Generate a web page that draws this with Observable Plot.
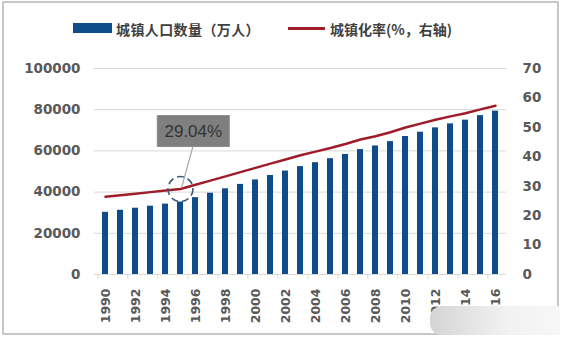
<!DOCTYPE html>
<html>
<head>
<meta charset="utf-8">
<script src="https://cdn.jsdelivr.net/npm/d3@7"></script>
<script src="https://cdn.jsdelivr.net/npm/@observablehq/plot@0.6"></script>
<style>
  body { margin: 0; background: #fff; }
  #wrap { position: relative; width: 562px; height: 339px; overflow: hidden; background: #fff; }
  #frame { position: absolute; left: 2px; top: 1px; width: 553px; height: 330px; border: 2px solid #c8c8c8; }
  #legend { position: absolute; left: 0; top: 0; width: 562px; height: 50px; font-family: "Noto Sans CJK SC", sans-serif; font-weight: bold; font-size: 14px; color: #404040; }
  .sw { position: absolute; }
  .lt { position: absolute; top: 19px; line-height: 20px; white-space: nowrap; }
  #chart { position: absolute; left: 0; top: 50px; }
  #wm { position: absolute; left: 430px; top: 306px; width: 130px; height: 29px; border-radius: 12px 0 0 12px; background: linear-gradient(90deg, #d4d4d4, #e6e6e6 35%, #f2f2f2 60%, #f7f7f7); }
</style>
</head>
<body>
<div id="wrap">
  <div id="frame"></div>
  <div id="legend">
    <div class="sw" style="left:73px;top:23px;width:39px;height:10px;background:#0f4c8a"></div>
    <div class="lt" style="left:116px;letter-spacing:0.4px">城镇人口数量（万人）</div>
    <div class="sw" style="left:288px;top:27px;width:37px;height:3px;background:#a01c2a"></div>
    <div class="lt" style="left:330px">城镇化率(%，右轴)</div>
  </div>
  <div id="chart"></div>
  <div id="wm"></div>
</div>
<script>
const years = [1990,1991,1992,1993,1994,1995,1996,1997,1998,1999,2000,2001,2002,2003,2004,2005,2006,2007,2008,2009,2010,2011,2012,2013,2014,2015,2016];
const urbanPop = [30195,31203,32175,33173,34169,35174,37304,39449,41608,43748,45906,48064,50212,52376,54283,56212,58288,60633,62403,64512,66978,69079,71182,73111,74916,77116,79298];
const urbanRate = [26.41,26.94,27.46,27.99,28.51,29.04,30.48,31.91,33.35,34.78,36.22,37.66,39.09,40.53,41.76,42.99,44.34,45.89,46.99,48.34,49.95,51.27,52.57,53.73,54.77,56.10,57.35];
const leftTicks = [0,20000,40000,60000,80000,100000];
const rightTicks = [0,10,20,30,40,50,60,70];
const yearTicks = years.filter(y => y % 2 === 0);
const annotYear = 1995;
const annotLabel = "29.04%";

const k = 100000 / 70;
const data = years.map((y, i) => ({year: y, pop: urbanPop[i], rate: urbanRate[i], rateScaled: urbanRate[i] * k}));
const annot = data.filter(d => d.year === annotYear);

const numFont = "DejaVu Sans, sans-serif";

const boxSymbol = {draw(ctx) { ctx.rect(-36, -15.5, 72, 31); }};
const leaderSymbol = {draw(ctx) { ctx.moveTo(1, -1); ctx.lineTo(12.5, -43); }};

const chart = Plot.plot({
  width: 562,
  height: 289,
  marginLeft: 94,
  marginRight: 56,
  marginTop: 18,
  marginBottom: 65,
  style: {background: "transparent", overflow: "visible"},
  x: {type: "band", domain: years, paddingInner: 0.6, paddingOuter: 0.3},
  y: {domain: [0, 100000]},
  marks: [
    Plot.ruleY(leftTicks.filter(t => t > 0), {stroke: "#d9d9d9", strokeWidth: 1}),
    Plot.ruleY([0], {stroke: "#d9d9d9", strokeWidth: 1}),
    Plot.ruleX(yearTicks, {x: d => d, y1: 0, y2: -2400, dx: -7.6, stroke: "#d9d9d9"}),
    Plot.barY(data, {x: "year", y: "pop", fill: "#0f4c8a"}),
    Plot.line(data, {x: "year", y: "rateScaled", stroke: "#a01c2a", strokeWidth: 2.5, curve: "linear"}),
    Plot.dot(annot, {x: "year", y: "rateScaled", symbol: leaderSymbol, fill: "none", stroke: "#a6a6a6", strokeWidth: 1.2}),
    Plot.dot(annot, {x: "year", y: "rateScaled", r: 12.5, fill: "none", stroke: "#3e5c7c", strokeWidth: 1.6, strokeDasharray: "7,4"}),
    Plot.dot(annot, {x: "year", y: "rateScaled", symbol: boxSymbol, dx: 12.8, dy: -58, fill: "#7f7f7f", stroke: "#8c8c8c", strokeWidth: 1}),
    Plot.text(annot, {x: "year", y: "rateScaled", text: () => annotLabel, dx: 12.8, dy: -57, fontSize: 17, fontFamily: "Liberation Sans, Arial, sans-serif", fill: "#333333"}),
    Plot.axisY({ticks: leftTicks, tickSize: 0, tickPadding: 14, tickFormat: d => String(d), label: null, fontSize: 13.5, fontWeight: "bold", fontFamily: numFont, color: "#595959"}),
    Plot.axisY(rightTicks.map(t => t * k), {anchor: "right", tickSize: 0, tickPadding: 16, tickFormat: d => String(Math.round(d / k)), label: null, fontSize: 13.5, fontWeight: "bold", fontFamily: numFont, color: "#595959"}),
    Plot.axisX(yearTicks, {tickSize: 0, tickPadding: 14, tickRotate: -90, tickFormat: d => String(d), label: null, fontSize: 12.5, fontWeight: "bold", fontFamily: numFont, color: "#595959"})
  ]
});
document.getElementById("chart").appendChild(chart);
</script>
</body>
</html>
